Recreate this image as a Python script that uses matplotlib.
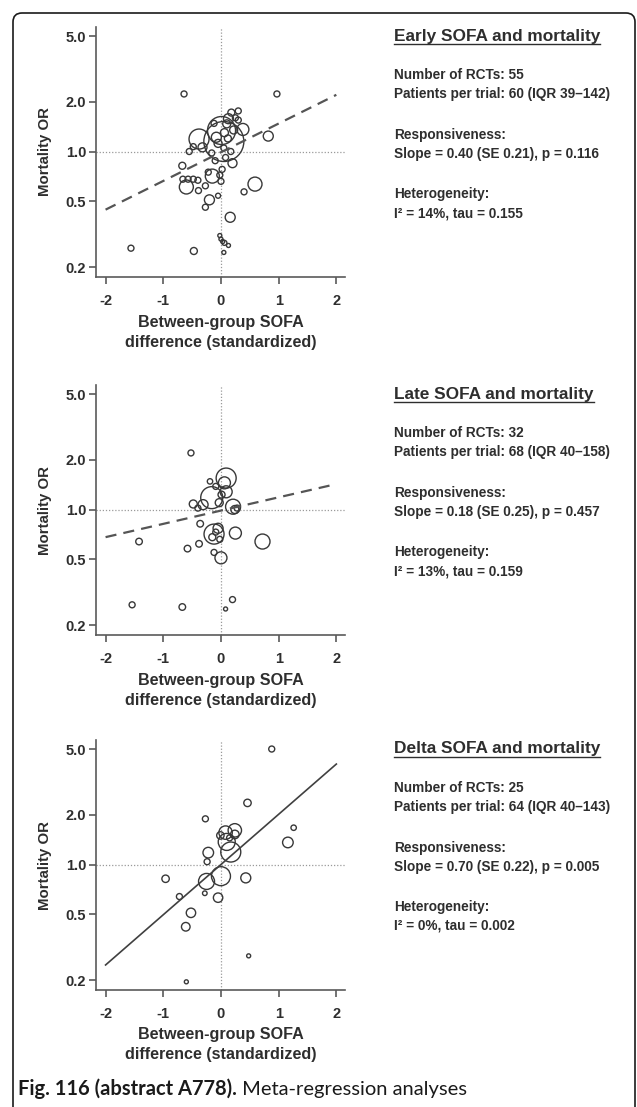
import numpy as np
import matplotlib
matplotlib.use("Agg")
import matplotlib.pyplot as plt
from matplotlib.patches import FancyBboxPatch
from matplotlib.lines import Line2D
from matplotlib.transforms import IdentityTransform

# ---------------- data ----------------
early_x = [-0.64, 0.97, -1.56, -0.47, -0.02, 0.00, 0.03, 0.06, 0.13, 0.05,
           0.16, 0.59, 0.40, 0.82, 0.30, -0.55, -0.67, -0.60, -0.66, -0.57,
           -0.48, -0.40, -0.39, -0.27, -0.20, -0.27, -0.05, -0.15, 0.00, -0.02,
           0.02, 0.20, 0.17, -0.48, -0.32, -0.38, -0.16, 0.05, 0.01, -0.08,
           0.10, 0.13, 0.25, 0.30, 0.38, 0.18, -0.12, 0.06, -0.05, 0.12,
           -0.10, 0.05, -0.22, 0.08, 0.22]
early_or = [2.23, 2.23, 0.26, 0.25, 0.31, 0.295, 0.285, 0.28, 0.27, 0.245,
            0.40, 0.635, 0.57, 1.24, 1.76, 1.00, 0.82, 0.61, 0.68, 0.68,
            0.68, 0.67, 0.58, 0.62, 0.51, 0.46, 0.54, 0.71, 0.66, 0.72,
            0.78, 0.85, 1.00, 1.07, 1.06, 1.19, 0.98, 1.15, 1.34, 1.22,
            1.47, 1.58, 1.60, 1.55, 1.36, 1.72, 1.48, 1.30, 1.12, 1.20,
            0.88, 1.05, 0.75, 0.92, 1.35]
early_weight = [3, 3, 3, 3.5, 2, 2, 2, 2.5, 2, 2,
                5, 7, 3, 5, 3, 3, 3.5, 7, 3, 3,
                3, 3, 3, 3, 5, 3, 2.5, 7, 3, 3,
                3, 4.5, 3, 3, 4.5, 10, 3, 20, 14, 5,
                4, 5, 3, 3, 6, 3.5, 3, 4, 4, 3.5,
                3, 3, 3, 3, 4]

late_x = [-0.52, -1.42, -1.54, -0.67, 0.20, 0.08, 0.72, 0.25, 0.00, -0.12,
          -0.58, -0.38, -0.36, -0.12, -0.15, -0.05, -0.09, -0.48, -0.31, -0.16,
          -0.03, 0.21, 0.24, 0.09, 0.01, 0.09, 0.06, -0.19, -0.09, -0.40,
          0.28, -0.02]
late_or = [2.20, 0.64, 0.265, 0.257, 0.285, 0.25, 0.64, 0.72, 0.51, 0.55,
           0.58, 0.62, 0.82, 0.71, 0.68, 0.77, 0.73, 1.08, 1.07, 1.18,
           1.10, 1.04, 1.00, 1.28, 1.23, 1.55, 1.45, 1.48, 1.38, 1.02,
           1.02, 0.66]
late_weight = [3, 3.3, 3, 3.3, 3, 2, 7.5, 6, 6, 3,
               3.3, 3.3, 3.3, 10, 3.5, 5, 3, 4, 5, 11,
               4, 7.5, 4, 6, 3.5, 10, 6, 2.7, 3, 3,
               3, 3]

delta_x = [0.88, 0.46, -0.27, 1.26, 1.16, -0.96, -0.72, -0.28, -0.05, -0.52,
           -0.61, 0.48, -0.60, 0.43, 0.00, -0.25, -0.22, -0.24, 0.17, 0.10,
           -0.01, 0.08, 0.24, 0.24, 0.15]
delta_or = [5.0, 2.36, 1.89, 1.67, 1.36, 0.82, 0.64, 0.67, 0.63, 0.51,
            0.42, 0.28, 0.195, 0.83, 0.85, 0.79, 1.18, 1.04, 1.19, 1.37,
            1.50, 1.56, 1.61, 1.52, 1.45]
delta_weight = [3, 3.7, 3, 2.7, 5.3, 3.7, 3, 2.3, 4.7, 4.7,
                4.3, 2, 2, 5, 9.5, 8, 5.3, 3, 10, 8.5,
                3.7, 6.7, 6.7, 4.3, 3]

# meta-regression fits: ln(OR) = intercept + slope * x
fit_slope = [0.40, 0.185, 0.70]
fit_intercept = [-0.01, -0.015, 0.0]
fit_style = ["--", "--", "-"]

panel_titles = ["Early SOFA and mortality", "Late SOFA and mortality",
                "Delta SOFA and mortality"]
panel_lines = [
    ["Number of RCTs: 55", "Patients per trial: 60 (IQR 39\u2013142)",
     "Responsiveness:", "Slope = 0.40 (SE 0.21), p = 0.116",
     "Heterogeneity:", "I\u00b2 = 14%, tau = 0.155"],
    ["Number of RCTs: 32", "Patients per trial: 68 (IQR 40\u2013158)",
     "Responsiveness:", "Slope = 0.18 (SE 0.25), p = 0.457",
     "Heterogeneity:", "I\u00b2 = 13%, tau = 0.159"],
    ["Number of RCTs: 25", "Patients per trial: 64 (IQR 40\u2013143)",
     "Responsiveness:", "Slope = 0.70 (SE 0.22), p = 0.005",
     "Heterogeneity:", "I\u00b2 = 0%, tau = 0.002"],
]

y_ticks = [0.2, 0.5, 1.0, 2.0, 5.0]
y_ticklabels = ["0.2", "0.5", "1.0", "2.0", "5.0"]
x_ticks = [-2, -1, 0, 1, 2]
x_ticklabels = ["-2", "-1", "0", "1", "2"]
x_label_lines = ["Between-group SOFA", "difference (standardized)"]
y_label = "Mortality OR"
caption_bold = "Fig. 116 (abstract A778)."
caption_rest = " Meta-regression analyses"

# ---------------- figure ----------------
W, H = 637, 1107
fig = plt.figure(figsize=(W / 100, H / 100), dpi=100)
fig.patch.set_facecolor("white")

FONT = "Liberation Sans"
TXT = "#2e2e2e"
AX = "#5a5a5a"
MK = "#383838"

panels = [(early_x, early_or, early_weight),
          (late_x, late_or, late_weight),
          (delta_x, delta_or, delta_weight)]
tops = [27, 385, 740]
ax_left, ax_right = 96, 345
ax_h = 250

def fx(px):
    return px / W

def fy(py):
    return 1 - py / H

for i, (xs, ors, ws) in enumerate(panels):
    top = tops[i]
    ax = fig.add_axes([fx(ax_left), fy(top + ax_h), (ax_right - ax_left) / W, ax_h / H])
    ax.set_yscale("log")
    ax.set_xlim(-2.166, 2.15)
    ax.set_ylim(0.174, 5.67)
    ax.axvline(0, color="#9a9a9a", lw=0.9, ls=(0, (1, 1.5)), zorder=1)
    ax.axhline(1.0, color="#9a9a9a", lw=0.9, ls=(0, (1, 1.5)), zorder=1)
    sizes = [(2 * w * 0.72) ** 2 for w in ws]
    ax.scatter(xs, ors, s=sizes, facecolors="none", edgecolors=MK,
               linewidths=1.0, zorder=3)
    lx = np.array([-2.0, 2.0])
    ly = np.exp(fit_intercept[i] + fit_slope[i] * lx)
    if fit_style[i] == "--":
        ax.plot(lx, ly, color="#555555", lw=1.6, ls=(0, (5, 3.2)), zorder=4)
    else:
        ax.plot(lx, ly, color="#404040", lw=1.2, ls="-", zorder=4)
    for s in ["top", "right"]:
        ax.spines[s].set_visible(False)
    for s in ["left", "bottom"]:
        ax.spines[s].set_color(AX)
        ax.spines[s].set_linewidth(1.2)
    ax.set_yticks(y_ticks)
    ax.set_yticklabels(y_ticklabels)
    ax.yaxis.set_minor_locator(matplotlib.ticker.NullLocator())
    ax.set_xticks(x_ticks)
    ax.set_xticklabels(x_ticklabels)
    ax.tick_params(axis="both", direction="out", length=5, width=1.2, color=AX,
                   labelcolor=TXT, labelsize=10.5)
    ax.tick_params(axis="y", pad=2)
    ax.tick_params(axis="x", pad=7)
    for lab in ax.get_xticklabels() + ax.get_yticklabels():
        lab.set_fontfamily(FONT)
        lab.set_fontweight("bold")
    ax.patch.set_alpha(0)
    # axis labels
    cx = (ax_left + ax_right) / 2
    bottom = top + ax_h
    for k, line in enumerate(x_label_lines):
        fig.text(fx(cx), fy(bottom + 45 + 20 * k), line, ha="center", va="center",
                 fontsize=11.6, fontweight="bold", family=FONT, color=TXT)
    fig.text(fx(45), fy(top + ax_h / 2), y_label, ha="center", va="center",
             rotation=90, fontsize=10.8, fontweight="bold", family=FONT, color=TXT)

fig.canvas.draw()
renderer = fig.canvas.get_renderer()

text_x = 394
offsets = [39, 58, 99, 118, 158, 177]
for i in range(3):
    ty = tops[i] + 9
    t = fig.text(fx(text_x), fy(ty), panel_titles[i], ha="left", va="center",
                 fontsize=12.4, fontweight="bold", family=FONT, color=TXT)
    bb = t.get_window_extent(renderer)
    uy = bb.y0 - 0.5
    fig.add_artist(Line2D([bb.x0, bb.x1], [uy, uy], transform=IdentityTransform(),
                          color=TXT, lw=1.0))
    for off, line in zip(offsets, panel_lines[i]):
        fig.text(fx(text_x), fy(ty + off), line, ha="left", va="center",
                 fontsize=9.8, fontweight="bold", family=FONT, color=TXT)

# caption
cap = fig.text(fx(18), fy(1089), caption_bold, ha="left", va="center",
               fontsize=14.5, fontweight="bold", family="Lato", color="#1a1a1a")
fig.canvas.draw()
cb = cap.get_window_extent(renderer)
fig.text(cb.x1 / W, fy(1089), caption_rest, ha="left", va="center",
         fontsize=14.5, family="Lato", color="#1a1a1a")

# rounded outer frame
frame = FancyBboxPatch((13, -12), 622, H - 13 + 12,
                       boxstyle="round,pad=0,rounding_size=9",
                       transform=IdentityTransform(), facecolor="none",
                       edgecolor="#1a1a1a", linewidth=1.2)
fig.add_artist(frame)

fig.savefig("out.png", dpi=100, facecolor="white")
